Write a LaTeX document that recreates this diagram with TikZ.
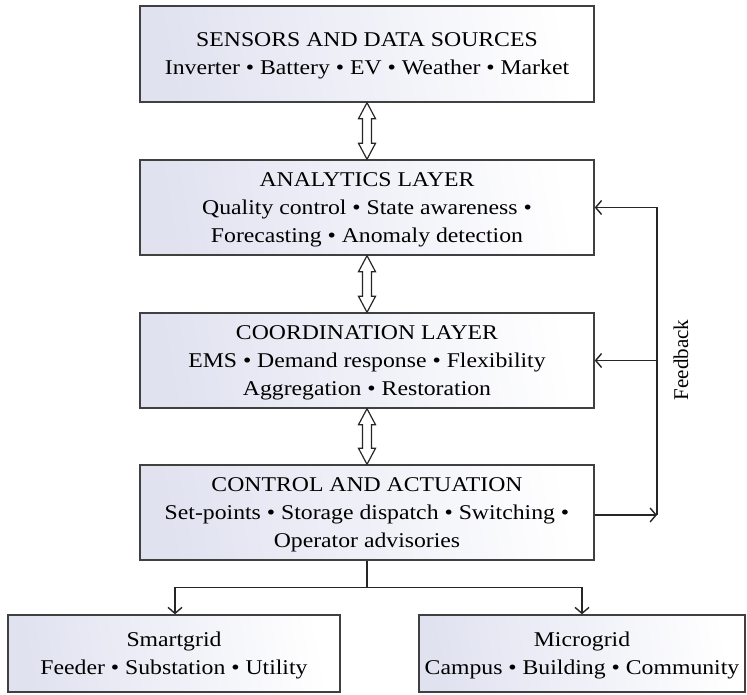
\documentclass[tikz,border=0pt]{standalone}
\usepackage{fontspec}
\setmainfont{Liberation Serif}
\newfontfamily\boxfont[FakeStretch=1.13]{Liberation Serif}
\usetikzlibrary{arrows.meta,calc}
\tikzset{
  box/.style={draw=black!75, line width=1.4pt, left color={rgb,255:red,224;green,226;blue,240}, right color=white, shading angle=100, align=center, font=\boxfont\fontsize{21}{28}\selectfont, inner sep=0pt, text depth=0pt},
  conn/.style={line width=1.4pt, draw=black!85},
  tip/.style={-{Straight Barb[length=6pt,width=14pt,line width=1.4pt]}},
  hollow/.style={draw=black!85, line width=1.2pt, fill=white, line join=miter}
}
\newcommand\dblarr[2]{\draw[hollow] (#1.south) -- ++(8.5,16) -- ++(-4,0) -- ($(#2.north)+(4.5,-16)$) -- ++(4,0) -- (#2.north) -- ++(-8.5,-16) -- ++(4,0) -- ($(#1.south)+(-4.5,16)$) -- ++(-4,0) -- cycle;}
\begin{document}
\begin{tikzpicture}[x=1pt,y=-1pt]
\useasboundingbox (0,0) rectangle (747,695);
\node[box, minimum width=454pt, minimum height=96pt] (top) at (367,54) {SENSORS AND DATA SOURCES\\Inverter • Battery • EV • Weather • Market};
\node[box, minimum width=454pt, minimum height=95pt] (ana) at (367,207.5) {ANALYTICS LAYER\\Quality control • State awareness •\\Forecasting • Anomaly detection};
\node[box, minimum width=454pt, minimum height=95pt] (coord) at (367,360.5) {COORDINATION LAYER\\EMS • Demand response • Flexibility\\Aggregation • Restoration};
\node[box, minimum width=454pt, minimum height=95pt] (ctrl) at (367,512.5) {CONTROL AND ACTUATION\\Set-points • Storage dispatch • Switching •\\Operator advisories};
\node[box, minimum width=332pt, minimum height=77pt] (smart) at (174,653.5) {Smartgrid\\Feeder • Substation • Utility};
\node[box, minimum width=326pt, minimum height=77pt] (micro) at (582,653.5) {Microgrid\\Campus • Building • Community};
\dblarr{top}{ana}
\dblarr{ana}{coord}
\dblarr{coord}{ctrl}
\coordinate (fb) at (657,515);
\coordinate (split) at ($(ctrl.south)+(0,27)$);
\draw[conn, tip] (ctrl.east |- fb) -- (fb);
\draw[conn] (fb) -- (fb |- ana.east);
\draw[conn, tip] (fb |- ana.east) -- (ana.east);
\draw[conn, tip] (fb |- coord.east) -- (coord.east);
\draw[conn] (ctrl.south) -- (split);
\draw[conn, tip] (split) -| ($(smart.north)+(1,0)$);
\draw[conn, tip] (split) -| (micro.north);
\node[rotate=90, font=\fontsize{21}{25}\selectfont] (fbl) at (681,360) {Feedback};
\end{tikzpicture}
\end{document}
